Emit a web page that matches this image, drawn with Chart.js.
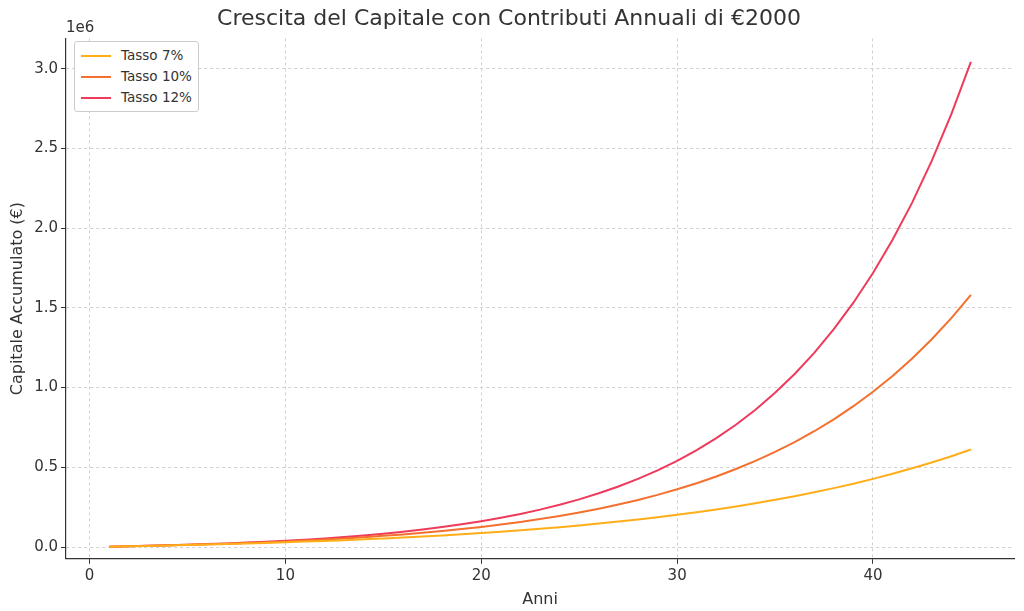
<!DOCTYPE html>
<html>
<head>
<meta charset="utf-8">
<script src="https://cdn.jsdelivr.net/npm/chart.js@4"></script>
<style>
body { margin: 0; background: #fff; font-family: "DejaVu Sans", sans-serif; }
#wrap { position: relative; width: 1024px; height: 611px; }
#legend { position: absolute; left: 74px; top: 41px; background: #fff; border: 1px solid #ccc; border-radius: 3px; padding: 3px 6px 3px 6px; font-size: 13.5px; color: #333; }
#legend div { height: 21px; line-height: 21px; }
#legend span { display: inline-block; width: 30px; height: 2px; vertical-align: middle; margin-right: 10px; }
</style>
</head>
<body>
<div id="wrap">
<canvas id="chart" width="1024" height="611"></canvas>
<div id="legend"></div>
</div>
<script>
// capitale accumulato a fine anno, anni 1..45
const SERIES = {
    "Tasso 7%": { color: "#FFAE1A", values: [2140, 4430, 6880, 9501, 12306, 15307, 18519, 21955, 25632, 29567, 33776, 38281, 43101, 48258, 53776, 59680, 65998, 72758, 79991, 87730, 96011, 104872, 114353, 124498, 135353, 146968, 159396, 172694, 186923, 202148, 218438, 235869, 254520, 274476, 295829, 318677, 343124, 369283, 397273, 427222, 459268, 493557, 530246, 569503, 611508] },
    "Tasso 10%": { color: "#F4702F", values: [2200, 4620, 7282, 10210, 13431, 16974, 20872, 25159, 29875, 35062, 40769, 47045, 53950, 61545, 69899, 79089, 89198, 100318, 112550, 126005, 140805, 157086, 174995, 194694, 216364, 240200, 266420, 295262, 326988, 361887, 400276, 442503, 488953, 540049, 596254, 658079, 726087, 800896, 883185, 973704, 1073075, 1182582, 1303041, 1435545, 1581299] },
    "Tasso 12%": { color: "#EE3A5B", values: [2240, 4749, 7559, 10706, 14230, 18178, 22599, 27551, 33097, 39309, 46266, 54058, 62785, 72559, 83507, 95767, 109499, 124879, 142104, 161397, 183005, 207206, 234311, 264668, 298668, 336748, 379398, 427166, 480666, 540586, 607696, 682860, 767043, 861328, 966927, 1085198, 1217662, 1366021, 1532184, 1718286, 1926720, 2160166, 2421626, 2714461, 3042436] }
};

const datasets = Object.entries(SERIES).map(([name, s]) => ({
    label: name,
    data: s.values.map((v, i) => ({ x: i + 1, y: v })),
    borderColor: s.color,
    borderWidth: 2,
    pointRadius: 0,
    fill: false,
    tension: 0
}));

document.getElementById("legend").innerHTML = Object.entries(SERIES).map(([name, s]) =>
    `<div><span style="background:${s.color}"></span>${name}</div>`).join('');

const offsetLabel = {
    id: "offsetLabel",
    afterDraw(c) {
        const ctx = c.ctx;
        ctx.save();
        ctx.font = "15px 'DejaVu Sans'";
        ctx.fillStyle = "#333";
        ctx.textAlign = "left";
        ctx.textBaseline = "bottom";
        ctx.fillText("1e6", c.chartArea.left, c.chartArea.top - 3);
        ctx.restore();
    }
};

const grid = { color: "#d0d0d0", drawTicks: true, tickColor: "#333", tickLength: 5 };

new Chart(document.getElementById("chart").getContext("2d"), {
    type: "line",
    data: { datasets: datasets },
    plugins: [offsetLabel],
    options: {
        responsive: false,
        animation: false,
        layout: { padding: { left: 4, right: 10, top: 2, bottom: 0 } },
        scales: {
            x: {
                type: "linear",
                min: -1.2, max: 47.2,
                afterBuildTicks: s => { s.ticks = [0, 10, 20, 30, 40].map(v => ({ value: v })); },
                ticks: { color: "#333", font: { size: 15, family: "DejaVu Sans" } },
                grid: grid,
                border: { color: "#333", width: 1.2, dash: [3, 3] },
                title: { display: true, text: "Anni", color: "#333", font: { size: 16, family: "DejaVu Sans" }, padding: { top: 2, bottom: 2 } }
            },
            y: {
                min: -74000, max: 3190000,
                afterBuildTicks: s => { s.ticks = [0, 0.5, 1, 1.5, 2, 2.5, 3].map(v => ({ value: v * 1e6 })); },
                ticks: { color: "#333", font: { size: 15, family: "DejaVu Sans" }, callback: v => (v / 1e6).toFixed(1) },
                grid: grid,
                border: { color: "#333", width: 1.2, dash: [3, 3] },
                title: { display: true, text: "Capitale Accumulato (€)", color: "#333", font: { size: 16, family: "DejaVu Sans" } }
            }
        },
        plugins: {
            legend: { display: false },
            tooltip: { enabled: false },
            title: { display: true, text: "Crescita del Capitale con Contributi Annuali di €2000", color: "#333", font: { size: 22, family: "DejaVu Sans", weight: "normal" }, padding: { top: 4, bottom: 6 } }
        }
    }
});
</script>
</body>
</html>
